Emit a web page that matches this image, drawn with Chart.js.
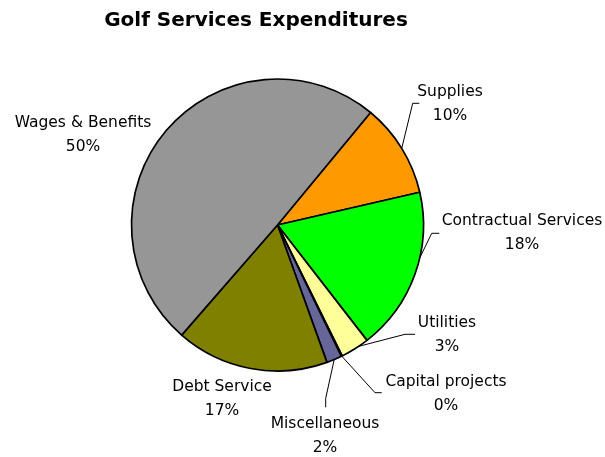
<!DOCTYPE html>
<html lang="en">
<head>
    <meta charset="UTF-8">
    <title>Golf Services Expenditures</title>
    <script src="https://cdn.jsdelivr.net/npm/chart.js"></script>
    <style>
        body { margin: 0; background: #fff; }
        canvas { display: block; }
    </style>
</head>
<body>
    <canvas id="expChart" width="605" height="457"></canvas>

    <script>
        // Expenditure shares (percent), clockwise from the top-right
        const categories = ['Supplies', 'Contractual Services', 'Utilities', 'Capital projects', 'Miscellaneous', 'Debt Service', 'Wages & Benefits'];
        const shares = [10.4, 18.1, 3.2, 0.1, 1.7, 16.9, 49.6];

        const sliceColors = ['#FF9900', '#00FF00', '#FFFF99', '#CCFFFF', '#666699', '#808000', '#969696'];

        // Label placement relative to the pie centre; leader = [elbow, end], anchor = fraction along slice
        const labelSpots = [
            { dx: 172.5, dy: -121, anchor: 0.5, leader: [[135.2, -121.7], [141.8, -121.7]] },
            { dx: 244.5, dy: 8, anchor: 0.4, leader: [[154.2, 8.3], [161.8, 8.3]] },
            { dx: 169.5, dy: 109.7, anchor: 0.35, leader: [[127.5, 109.3], [137.5, 109.3]] },
            { dx: 168.5, dy: 168.5, anchor: 0.5, leader: [[97.5, 167.7], [104.2, 167.7]] },
            { dx: 47.5, dy: 211, anchor: 0.5, leader: [[48.2, 173.3], [48.2, 182.3]] },
            { dx: -55.5, dy: 174 },
            { dx: -194.5, dy: -90.5 }
        ];

        const sliceLabels = {
            id: 'sliceLabels',
            afterDatasetsDraw(chart) {
                const ctx = chart.ctx;
                const arcs = chart.getDatasetMeta(0).data;
                const total = shares.reduce((a, b) => a + b, 0);

                ctx.save();
                // title
                ctx.fillStyle = '#000';
                ctx.font = 'bold 20px "DejaVu Sans"';
                ctx.textAlign = 'center';
                ctx.textBaseline = 'alphabetic';
                ctx.fillText('Golf Services Expenditures', 256, 26);

                ctx.font = '15.5px "DejaVu Sans"';
                ctx.textBaseline = 'middle';
                ctx.strokeStyle = '#000';
                ctx.lineWidth = 1;

                arcs.forEach((arc, i) => {
                    const spot = labelSpots[i];
                    const cx = arc.x, cy = arc.y;

                    if (spot.leader) {
                        const a = arc.startAngle + (arc.endAngle - arc.startAngle) * spot.anchor;
                        ctx.beginPath();
                        ctx.moveTo(cx + arc.outerRadius * Math.cos(a), cy + arc.outerRadius * Math.sin(a));
                        spot.leader.forEach(p => ctx.lineTo(cx + p[0], cy + p[1]));
                        ctx.stroke();
                    }

                    const pct = Math.round(shares[i] / total * 100) + '%';
                    ctx.fillText(categories[i], cx + spot.dx, cy + spot.dy - 12);
                    ctx.fillText(pct, cx + spot.dx, cy + spot.dy + 12);
                });
                ctx.restore();
            }
        };

        new Chart(document.getElementById('expChart'), {
            type: 'pie',
            data: {
                labels: categories,
                datasets: [{
                    data: shares,
                    backgroundColor: sliceColors,
                    borderColor: '#000',
                    borderWidth: 1.7
                }]
            },
            options: {
                responsive: false,
                animation: false,
                devicePixelRatio: 1,
                radius: 146,
                rotation: 39.6,
                layout: { padding: { left: 0, right: 50, top: 0, bottom: 7 } },
                plugins: {
                    legend: { display: false },
                    tooltip: { enabled: false }
                }
            },
            plugins: [sliceLabels]
        });
    </script>
</body>
</html>
